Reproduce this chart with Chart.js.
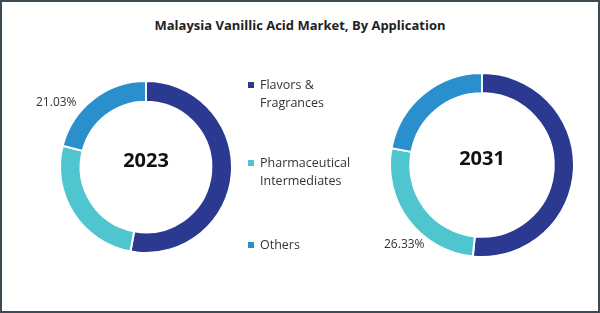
<!DOCTYPE html>
<html lang="en">
<head>
<meta charset="UTF-8">
<title>Malaysia Vanillic Acid Market, By Application</title>
<script src="https://cdn.jsdelivr.net/npm/chart.js"></script>
<style>
    html, body { margin: 0; padding: 0; background: #fff; }
    .frame {
        position: relative;
        width: 596px;
        height: 309px;
        border: 2px solid #3d4b55;
        background: #fff;
        font-family: "Open Sans", "Noto Sans", sans-serif;
        overflow: hidden;
    }
    .title {
        position: absolute;
        left: 0; right: 0; top: 14px;
        text-align: center;
        font-size: 13px;
        font-weight: bold;
        color: #222;
    }
    .donut { position: absolute; }
    .pct {
        position: absolute;
        font-size: 12px;
        color: #333;
    }
    .legend {
        position: absolute;
        left: 246px;
        top: 74px;
        font-size: 12.5px;
        color: #333;
        line-height: 18px;
    }
    .legend .item { position: absolute; white-space: nowrap; }
    .legend .sw {
        position: absolute; left: 0; top: 6px;
        width: 6px; height: 6px;
    }
    .legend .txt { position: absolute; left: 12px; top: 0; }
</style>
</head>
<body>
<div class="frame">
    <div class="title">Malaysia Vanillic Acid Market, By Application</div>
    <canvas id="chart2023" class="donut" width="182" height="182" style="left:53px; top:74px;"></canvas>
    <canvas id="chart2031" class="donut" width="194" height="194" style="left:383px; top:66px;"></canvas>
    <div class="pct" style="left:34px; top:91px;">21.03%</div>
    <div class="pct" style="left:382px; top:233px;">26.33%</div>
    <div class="legend" id="legend"></div>
</div>

<script>
    // categories and shares (%) per year
    const categories = [['Flavors &', 'Fragrances'], ['Pharmaceutical', 'Intermediates'], ['Others']];
    const colors = ['#2b3990', '#4fc5d0', '#2a8fcd'];
    const share2023 = [52.9, 26.07, 21.03];
    const share2031 = [51.6, 26.33, 22.07];

    // HTML legend built from categories
    const legendTops = [0, 78, 160];
    const legend = document.getElementById('legend');
    categories.forEach(function (lines, i) {
        const item = document.createElement('div');
        item.className = 'item';
        item.style.top = legendTops[i] + 'px';
        item.innerHTML = '<span class="sw" style="background:' + colors[i] + '"></span>' +
            '<span class="txt">' + lines.map(function (s) { return s.replace('&', '&amp;'); }).join('<br>') + '</span>';
        legend.appendChild(item);
    });

    // centre year text
    const centerText = {
        id: 'centerText',
        afterDraw(chart, args, opts) {
            const meta = chart.getDatasetMeta(0).data[0];
            const ctx = chart.ctx;
            ctx.save();
            ctx.font = 'bold 20px "Open Sans", sans-serif';
            ctx.fillStyle = '#111';
            ctx.textAlign = 'center';
            ctx.textBaseline = 'middle';
            ctx.fillText(opts.text, meta.x, meta.y - 6);
            ctx.restore();
        }
    };

    function makeDonut(id, values, year, cutout) {
        return new Chart(document.getElementById(id), {
            type: 'doughnut',
            data: {
                labels: categories.map(function (l) { return l.join(' '); }),
                datasets: [{
                    data: values,
                    backgroundColor: colors,
                    borderColor: '#ffffff',
                    borderWidth: 2
                }]
            },
            options: {
                responsive: false,
                animation: false,
                cutout: cutout,
                layout: { padding: 4 },
                plugins: {
                    legend: { display: false },
                    tooltip: { enabled: false },
                    centerText: { text: year }
                }
            },
            plugins: [centerText]
        });
    }

    makeDonut('chart2023', share2023, '2023', '76%');
    makeDonut('chart2031', share2031, '2031', '78%');
</script>
</body>
</html>
